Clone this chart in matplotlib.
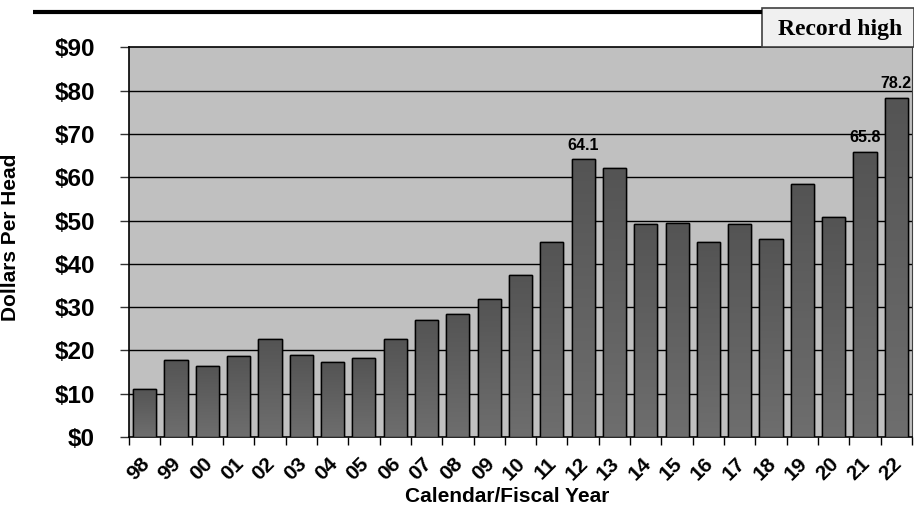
import numpy as np
import matplotlib.pyplot as plt
from matplotlib.patches import Rectangle
from matplotlib.lines import Line2D
from matplotlib.colors import LinearSegmentedColormap
from matplotlib.transforms import ScaledTranslation

# Per-head values by calendar/fiscal year
years = ['98', '99', '00', '01', '02', '03', '04', '05', '06', '07', '08', '09',
         '10', '11', '12', '13', '14', '15', '16', '17', '18', '19', '20', '21', '22']
values = [11.2, 17.8, 16.5, 18.8, 22.6, 18.9, 17.3, 18.2, 22.6, 27.0, 28.5, 31.8,
          37.5, 45.1, 64.1, 62.2, 49.3, 49.4, 45.0, 49.2, 45.8, 58.4, 50.8, 65.8, 78.2]
labelled = ['12', '21', '22']
yticks = [0, 10, 20, 30, 40, 50, 60, 70, 80, 90]

W, H = 914, 512
fig = plt.figure(figsize=(W / 100, H / 100), dpi=100)
fig.patch.set_facecolor('white')

# axes box in pixel terms
left, right, top, bottom = 129, 912, 47.3, 437
ax = fig.add_axes([left / W, 1 - bottom / H, (right - left) / W, (bottom - top) / H])
ax.set_facecolor('#c0c0c0')

x = np.arange(len(years))
width = 0.74

# gridlines behind the bars
for t in yticks[1:-1]:
    ax.axhline(t, color='black', lw=1.0, zorder=1)

# bars: dark at the top fading lighter at the base
cmap = LinearSegmentedColormap.from_list('barfade', ['#6e6e6e', '#545454'])
grad = np.linspace(0, 1, 64).reshape(-1, 1)
bars = ax.bar(x, values, width=width, color='#575757', edgecolor='black',
              linewidth=1.0, zorder=3)
for b in bars:
    x0, w, h = b.get_x(), b.get_width(), b.get_height()
    im = ax.imshow(grad, cmap=cmap, origin='lower', aspect='auto',
                   extent=[x0, x0 + w, 0, h], zorder=3.5)
    im.set_clip_path(b)
    ax.add_patch(Rectangle((x0, 0), w, h, fill=False, edgecolor='black',
                           linewidth=1.0, zorder=4))
ax.set_xlim(-0.5, len(years) - 0.5)
ax.set_ylim(0, 90)

for yr, xi, v in zip(years, x, values):
    if yr in labelled:
        ax.annotate(f'{v:.1f}', (xi, v), xytext=(0, 5), textcoords='offset points',
                    ha='center', va='bottom', fontsize=11.5, fontweight='bold',
                    family='Liberation Sans', zorder=5, annotation_clip=False)

# y axis
ax.set_yticks(yticks)
ax.set_yticklabels([f'${t}' for t in yticks], fontsize=17.5, fontweight='bold',
                   family='Liberation Sans')
ax.tick_params(axis='y', length=6.5, width=1, color='#333333', pad=18)

# x axis: ticks between the bars, labels under each bar
ax.set_xticks(np.arange(len(years) + 1) - 0.5, minor=True)
ax.set_xticks(x)
ax.set_xticklabels(years, rotation=45, ha='center', fontsize=15,
                   fontweight='bold', family='Liberation Sans')
ax.tick_params(axis='x', which='major', length=0, pad=12)
ax.tick_params(axis='x', which='minor', length=6, width=1, color='black')
shift = ScaledTranslation(-6 / 100, 0, fig.dpi_scale_trans)
for lab in ax.get_xticklabels():
    lab.set_transform(lab.get_transform() + shift)

for side in ['left', 'bottom', 'top']:
    ax.spines[side].set_color('black')
    ax.spines[side].set_linewidth(1.2)
ax.spines['right'].set_color('#404040')

ax.set_xlabel('Calendar/Fiscal Year', fontsize=15, fontweight='bold',
              family='Liberation Sans')
ax.xaxis.set_label_coords((507 - left) / (right - left), -(487 - bottom) / (bottom - top))
ax.set_ylabel('Dollars Per Head', fontsize=15, fontweight='bold',
              family='Liberation Sans')
ax.yaxis.set_label_coords(-(left - 20.5) / (right - left), (bottom - 237) / (bottom - top))

# heading rule and "Record high" tag
fig.add_artist(Line2D([33 / W, 762 / W], [1 - 12 / H, 1 - 12 / H],
                      color='black', lw=3, solid_capstyle='butt'))
fig.add_artist(Rectangle((762 / W, 1 - 47 / H), 152 / W, 39 / H,
                         transform=fig.transFigure, facecolor='#f0f0f0',
                         edgecolor='#404040', lw=1.2))
fig.text(840 / W, 1 - 29 / H, 'Record high', ha='center', va='center',
         fontsize=17, fontweight='bold', family='Liberation Serif')

fig.savefig('out.png', dpi=100)
